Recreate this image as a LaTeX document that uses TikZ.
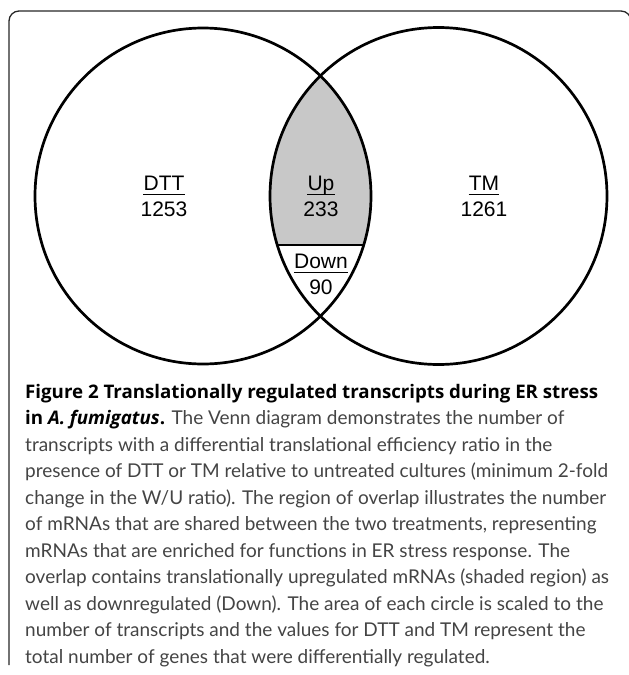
\documentclass[tikz,border=0pt]{standalone}
\usepackage{fontspec}
\setmainfont{Lato}
\newfontfamily\labelfont{Liberation Sans}
\newfontfamily\titlefont{Open Sans}
\usetikzlibrary{positioning}
\definecolor{overlapgray}{HTML}{C8C8C8}
\definecolor{captext}{HTML}{444444}
\colorlet{framegray}{black!85}
% count label: name, x, baseline y, set name, number
\newcommand{\vcount}[5]{%
  \node[countlbl] (#1) at (#2,#3) {#4};
  \node[countlbl] (#1num) at (#2,#3+25.5) {#5};
  \draw[line width=1.4pt] ([yshift=-4pt]#1.base west) -- ([yshift=-4pt]#1.base east);%
}
% bold run-in title of the caption
\newcommand{\captitle}[1]{{\titlefont\bfseries\fontsize{18.7}{23}\selectfont\color{black}#1}}
\tikzset{
  venn/.style={line width=2.7pt, draw=black},
  countlbl/.style={inner sep=0pt, anchor=base, font=\labelfont\fontsize{21}{25}\selectfont},
  capline/.style={inner sep=0pt, anchor=base west, text=captext,
    font=\fontsize{19}{23}\selectfont}
}

\begin{document}
\begin{tikzpicture}[x=1pt, y=-1pt]
  \useasboundingbox (0,0) rectangle (629,675);
  % outer frame, open at the bottom and cut at the right
  \draw[framegray, line width=1.3pt, rounded corners=10pt]
    (9,665) -- (9,11) -- (631,11) -- (631,40);

  \coordinate (dttc) at (203,196);
  \coordinate (tmc) at (438.5,196);
  \coordinate (splitl) at (277.3,245);
  \coordinate (splitr) at (363.7,245);

  % shaded part of the overlap
  \begin{scope}
    \clip (dttc) circle (168pt);
    \clip (0,0) rectangle (629,245);
    \fill[overlapgray] (tmc) circle (168.5pt);
  \end{scope}

  \draw[venn] (dttc) circle (168pt);
  \draw[venn] (tmc) circle (168.5pt);
  \draw[line width=2.4pt] (splitl) -- (splitr);

  \vcount{dtt}{164}{190.5}{DTT}{1253}
  \vcount{up}{321}{190.5}{Up}{233}
  \vcount{tm}{484}{190.5}{TM}{1261}
  \vcount{down}{321}{268.5}{Down}{90}

  % figure caption, one node per line
  \foreach \txt [count=\i] in {
    {\captitle{Figure 2 Translationally regulated transcripts during ER stress}},
    {\captitle{in \textit{A. fumigatus}.} The Venn diagram demonstrates the number of},
    {transcripts with a differential translational efficiency ratio in the},
    {presence of DTT or TM relative to untreated cultures (minimum 2-fold},
    {change in the W/U ratio). The region of overlap illustrates the number},
    {of mRNAs that are shared between the two treatments, representing},
    {mRNAs that are enriched for functions in ER stress response. The},
    {overlap contains translationally upregulated mRNAs (shaded region) as},
    {well as downregulated (Down). The area of each circle is scaled to the},
    {number of transcripts and the values for DTT and TM represent the},
    {total number of genes that were differentially regulated.}}
    \node[capline] (cap\i) at (25,{398+26.5*(\i-1)}) {\txt};
\end{tikzpicture}
\end{document}
